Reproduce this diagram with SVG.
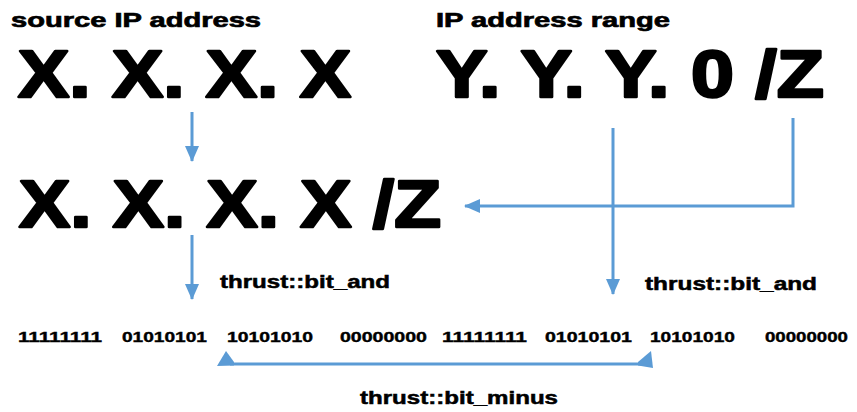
<svg xmlns="http://www.w3.org/2000/svg" width="857" height="412" viewBox="0 0 857 412">
<defs>
<style>
text{font-family:"Liberation Sans",Arial,sans-serif;font-weight:bold;fill:#000}
.big{font-size:67px;stroke:#000;stroke-width:2.6px;stroke-linejoin:round}
.lbl{font-size:21px;stroke:#000;stroke-width:0.7px}
.op{font-size:18px;stroke:#000;stroke-width:0.5px}
.bin{font-size:15px;stroke:#000;stroke-width:0.4px}
.ln{fill:none;stroke:#5B9BD5;stroke-width:3}
.hd{fill:#5B9BD5}
</style>
<marker id="ah" viewBox="0 0 16 14" refX="15" refY="7" markerWidth="16" markerHeight="14" markerUnits="userSpaceOnUse" orient="auto">
<path d="M0,0 L16,7 L0,14 Z" class="hd"/>
</marker>
</defs>
<rect width="857" height="412" fill="#fff"/>
<g id="source-label"><text class="lbl" x="11" y="27" textLength="250" lengthAdjust="spacingAndGlyphs">source IP address</text></g>
<g id="range-label"><text class="lbl" x="436" y="27" textLength="234" lengthAdjust="spacingAndGlyphs">IP address range</text></g>
<g id="source-ip"><text class="big" x="18" y="97" textLength="333" lengthAdjust="spacingAndGlyphs">X. X. X. X</text></g>
<g id="ip-range"><text class="big" x="436" y="97" textLength="388" lengthAdjust="spacingAndGlyphs">Y. Y. Y. 0 /Z</text></g>
<g id="source-cidr"><text class="big" x="19" y="227" textLength="422" lengthAdjust="spacingAndGlyphs">X. X. X. X /Z</text></g>
<g id="bits-left">
<text class="bin" x="18" y="342" textLength="84" lengthAdjust="spacingAndGlyphs">11111111</text>
<text class="bin" x="122" y="342" textLength="85" lengthAdjust="spacingAndGlyphs">01010101</text>
<text class="bin" x="227" y="342" textLength="86" lengthAdjust="spacingAndGlyphs">10101010</text>
<text class="bin" x="340" y="342" textLength="87" lengthAdjust="spacingAndGlyphs">00000000</text>
</g>
<g id="bits-right">
<text class="bin" x="442" y="342" textLength="85" lengthAdjust="spacingAndGlyphs">11111111</text>
<text class="bin" x="545" y="342" textLength="87" lengthAdjust="spacingAndGlyphs">01010101</text>
<text class="bin" x="650" y="342" textLength="85" lengthAdjust="spacingAndGlyphs">10101010</text>
<text class="bin" x="765" y="342" textLength="83" lengthAdjust="spacingAndGlyphs">00000000</text>
</g>
<g id="connectors">
<path class="ln" d="M192,112 V161" marker-end="url(#ah)"/>
<path class="ln" d="M793,118 V206 H465" marker-end="url(#ah)"/>
<path class="ln" d="M613,128 V294" marker-end="url(#ah)"/>
<path class="ln" d="M192,235 V299" marker-end="url(#ah)"/>
<path class="ln" d="M230,364 H644"/>
<polygon class="hd" points="217,366 226,351 234,362 234,365.5"/>
<polygon class="hd" points="638,362 651,351 653,368 638,365.5"/>
</g>
<g id="op-and-left"><text class="op" x="220" y="288" textLength="170" lengthAdjust="spacingAndGlyphs">thrust::bit_and</text></g>
<g id="op-and-right"><text class="op" x="645" y="290" textLength="172" lengthAdjust="spacingAndGlyphs">thrust::bit_and</text></g>
<g id="op-minus"><text class="op" x="360" y="404" textLength="198" lengthAdjust="spacingAndGlyphs">thrust::bit_minus</text></g>
</svg>
